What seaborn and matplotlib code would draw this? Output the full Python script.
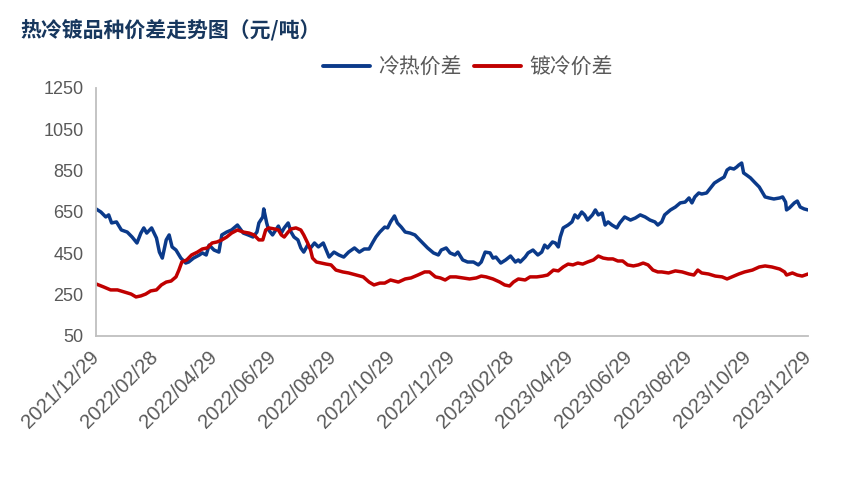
import numpy as np
import pandas as pd
import matplotlib
matplotlib.use("Agg")
import matplotlib.pyplot as plt
import seaborn as sns
from matplotlib.lines import Line2D

# ---------------- data ----------------
start_date = "2021-12-29"

# 冷热价差 : day offset from start_date, value (元/吨)
cold_hot_days = [0, 5, 10, 13, 16, 21, 26, 32, 37, 42, 46, 49, 52, 57, 62, 65, 68, 72, 75, 78,
                 82, 87, 92, 95, 100, 106, 109, 113, 116, 121, 126, 129, 134, 139, 145,
                 151, 156, 161, 165, 167, 171, 172, 175, 177, 181, 187, 190, 193, 197, 200,
                 203, 207, 210, 213, 217, 220, 224, 228, 233, 236, 239, 244, 249, 254, 259,
                 265, 270, 275, 280, 284, 287, 291, 296, 299, 302, 306, 309, 313, 317, 322,
                 327, 330, 335, 340, 346, 351, 354, 359, 363, 368, 371, 376, 381, 387, 392,
                 395, 399, 404, 407, 410, 415, 420, 425, 430, 433, 435, 440, 443, 448, 453,
                 457, 460, 463, 468, 471, 474, 476, 479, 484, 488, 491, 494, 498, 501, 504,
                 509, 512, 515, 519, 522, 525, 529, 534, 537, 542, 548, 553, 558, 563, 568,
                 573, 576, 580, 583, 589, 594, 599, 604, 608, 611, 614, 618, 621, 626, 630,
                 634, 639, 644, 647, 650, 654, 657, 659, 662, 664, 667, 671, 675, 680, 683,
                 686, 690, 695, 701, 704, 707, 708, 711, 716, 719, 722, 726, 730]
cold_hot_vals = [665, 650, 626, 636, 597, 602, 563, 553, 529, 500, 548, 573, 548, 573, 524, 456, 427, 515, 539, 481,
                 466, 427, 403, 408, 427, 442, 452, 442, 490, 466, 456, 539, 553, 563, 587,
                 548, 539, 529, 553, 597, 626, 665, 597, 563, 539, 582, 548, 573, 597, 553,
                 529, 515, 476, 456, 490, 476, 500, 481, 500, 466, 432, 456, 442, 432, 456,
                 476, 456, 471, 471, 505, 529, 553, 577, 573, 602, 631, 597, 577, 553, 548,
                 539, 524, 500, 476, 452, 442, 466, 476, 452, 442, 456, 418, 408, 408, 394,
                 408, 456, 452, 427, 432, 403, 418, 437, 408, 418, 408, 432, 452, 466, 442,
                 456, 490, 476, 505, 500, 481, 529, 573, 587, 602, 636, 621, 650, 636, 611,
                 636, 660, 636, 645, 587, 602, 587, 573, 597, 626, 611, 621, 636, 626, 611,
                 602, 587, 602, 636, 660, 674, 694, 698, 718, 694, 723, 742, 737, 742, 766,
                 790, 805, 819, 853, 863, 858, 868, 877, 887, 839, 829, 815, 795, 771, 747,
                 723, 718, 713, 718, 723, 698, 660, 670, 694, 703, 674, 665, 660]

# 镀冷价差
galv_cold_days = [0, 8, 15, 22, 29, 36, 41, 46, 51, 56, 62, 67, 72, 77, 82, 85, 88, 93, 98, 104,
                  109, 114, 119, 124, 129, 134, 139, 145, 151, 157, 162, 167, 171, 174, 177,
                  183, 187, 190, 193, 197, 200, 205, 210, 213, 217, 220, 222, 226, 231, 236,
                  241, 246, 253, 259, 267, 274, 280, 285, 291, 296, 302, 310, 317, 323, 330,
                  337, 342, 348, 353, 358, 363, 369, 376, 383, 390, 395, 400, 407, 414, 419,
                  424, 428, 433, 440, 445, 452, 458, 463, 469, 474, 479, 484, 489, 494, 499,
                  504, 510, 515, 520, 525, 530, 535, 540, 545, 551, 556, 561, 566, 571, 576,
                  580, 587, 594, 601, 608, 613, 617, 621, 628, 635, 642, 647, 652, 659, 665,
                  673, 680, 686, 693, 701, 706, 708, 714, 719, 724, 730]
galv_cold_vals = [302, 287, 273, 273, 263, 253, 239, 244, 253, 268, 273, 297, 311, 316, 336, 369, 408, 418, 442, 456,
                  471, 476, 500, 505, 515, 529, 548, 563, 553, 548, 539, 515, 515, 563, 573,
                  568, 563, 539, 529, 553, 568, 573, 563, 539, 500, 466, 427, 408, 403, 398,
                  394, 369, 360, 355, 345, 336, 311, 297, 306, 306, 321, 311, 326, 331, 345,
                  360, 360, 336, 331, 321, 336, 336, 331, 326, 331, 340, 336, 326, 311, 297,
                  292, 311, 326, 321, 336, 336, 340, 345, 369, 365, 384, 398, 394, 403, 398,
                  408, 418, 437, 427, 423, 423, 413, 413, 394, 389, 394, 403, 394, 369, 360,
                  360, 355, 365, 360, 350, 345, 369, 355, 350, 340, 336, 326, 336, 350, 360,
                  369, 384, 389, 384, 374, 360, 345, 355, 345, 340, 350]

series_names = ["冷热价差", "镀冷价差"]
series_colors = ["#0B3A8A", "#C00000"]

y_ticks = [50, 250, 450, 650, 850, 1050, 1250]
x_tick_labels = ["2021/12/29", "2022/02/28", "2022/04/29", "2022/06/29", "2022/08/29",
                 "2022/10/29", "2022/12/29", "2023/02/28", "2023/04/29", "2023/06/29",
                 "2023/08/29", "2023/10/29", "2023/12/29"]

title_text = "热冷镀品种价差走势图（元/吨）"

# ---------------- build table ----------------
base = pd.Timestamp(start_date)
df = pd.concat([
    pd.DataFrame({"date": base + pd.to_timedelta(cold_hot_days, unit="D"),
                  "value": cold_hot_vals, "series": series_names[0]}),
    pd.DataFrame({"date": base + pd.to_timedelta(galv_cold_days, unit="D"),
                  "value": galv_cold_vals, "series": series_names[1]}),
], ignore_index=True)

# ---------------- style ----------------
sns.set_theme(style="white")
plt.rcParams["font.family"] = ["Liberation Sans", "Noto Sans CJK SC", "DejaVu Sans"]

fig = plt.figure(figsize=(8.52, 4.96), dpi=100)
ax = fig.add_axes([96 / 852, 1 - 336 / 496, (808 - 96) / 852, (336 - 88) / 496])

sns.lineplot(data=df, x="date", y="value", hue="series", hue_order=series_names,
             palette=series_colors, linewidth=2.5, ax=ax, legend=False, sort=True)

ax.set_xlim(base, pd.Timestamp(x_tick_labels[-1].replace("/", "-")))
ax.set_ylim(y_ticks[0], y_ticks[-1])
ax.set_yticks(y_ticks)
ax.set_yticklabels([str(v) for v in y_ticks])
xt = pd.to_datetime(x_tick_labels, format="%Y/%m/%d")
ax.set_xticks(xt)
ax.set_xticklabels(x_tick_labels, rotation=45, ha="right", va="center",
                   rotation_mode="anchor", fontsize=14.5)
ax.set_xlabel("")
ax.set_ylabel("")

gray = "#BFBFBF"
for s in ["top", "right"]:
    ax.spines[s].set_visible(False)
for s in ["left", "bottom"]:
    ax.spines[s].set_color(gray)
    ax.spines[s].set_linewidth(1.3)
ax.tick_params(axis="both", which="major", colors=gray, length=6, width=1.3,
               labelcolor="#595959")
ax.tick_params(axis="y", labelsize=13, pad=3)
ax.tick_params(axis="x", pad=7)
ax.grid(False)

# title
fig.text(20 / 852, 1 - 30 / 496, title_text, color="#17375E", fontsize=15,
         fontweight="bold", family=["Noto Sans CJK SC", "DejaVu Sans"],
         ha="left", va="center")

# legend
handles = [Line2D([0], [0], color=c, lw=2.8) for c in series_colors]
leg = fig.legend(handles, series_names, loc="center", ncol=2,
                 bbox_to_anchor=(468 / 852, 1 - 67 / 496), frameon=False,
                 prop={"family": ["Noto Sans CJK SC", "DejaVu Sans"], "size": 15},
                 handlelength=2.25, columnspacing=0.6, handletextpad=0.4)
for t in leg.get_texts():
    t.set_color("#595959")

fig.savefig("out.png", dpi=100, facecolor="white")
